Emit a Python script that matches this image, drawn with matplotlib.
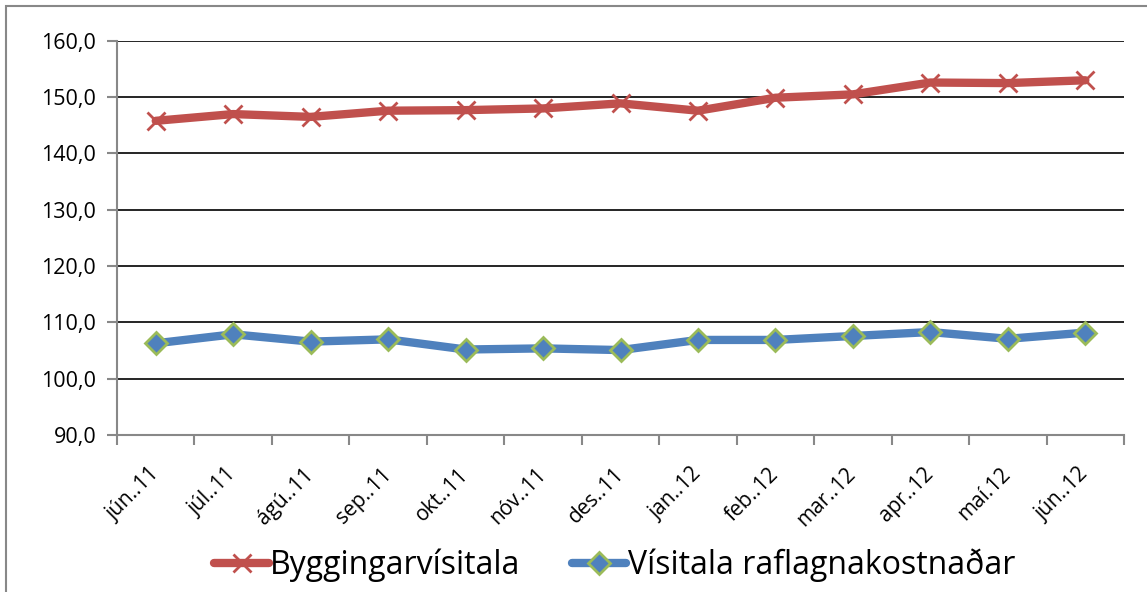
import matplotlib.pyplot as plt
from matplotlib.patches import Rectangle
from matplotlib.ticker import FixedLocator, FuncFormatter

plt.rcParams['font.family'] = ['Open Sans', 'DejaVu Sans']

months = ['jún..11', 'júl..11', 'ágú..11', 'sep..11', 'okt..11', 'nóv..11', 'des..11',
          'jan..12', 'feb..12', 'mar..12', 'apr..12', 'maí.12', 'jún..12']
bygging = [145.8, 147.0, 146.5, 147.6, 147.7, 148.0, 148.9,
           147.6, 149.9, 150.5, 152.6, 152.5, 153.0]
rafl = [106.3, 107.9, 106.6, 107.0, 105.2, 105.4, 105.1,
        106.9, 106.9, 107.6, 108.3, 107.1, 108.2]

fig = plt.figure(figsize=(11.47, 5.92), dpi=100)
ax = fig.add_axes([0.102, 0.265, 0.878, 0.666])

x = range(len(months))
ax.plot(x, bygging, color='#c0504d', lw=6, marker='x', ms=13, mew=2,
        mec='#c0504d', label='Byggingarvísitala', solid_capstyle='round')
ax.plot(x, rafl, color='#4f81bd', lw=6, marker='D', ms=11, mew=2,
        mfc='#4f81bd', mec='#9bbb59', label='Vísitala raflagnakostnaðar',
        solid_capstyle='round')

ax.set_ylim(90, 160)
ax.set_xlim(-0.5, len(months) - 0.5)
ax.set_yticks(range(90, 161, 10))
ax.yaxis.set_major_formatter(FuncFormatter(lambda v, p: f'{v:.1f}'.replace('.', ',')))
ax.grid(axis='y', color='black', lw=1.2)
ax.set_axisbelow(True)

ax.set_xticks(list(x))
ax.set_xticklabels(months, rotation=45, ha='right', va='center',
                   rotation_mode='anchor', fontsize=15)
ax.xaxis.set_minor_locator(FixedLocator([i - 0.5 for i in range(len(months) + 1)]))
ax.tick_params(axis='x', which='major', length=0, pad=26)
ax.tick_params(axis='x', which='minor', length=7, color='#888888', width=1.5)
ax.tick_params(axis='y', length=7, color='#888888', width=1.5, labelsize=15.5, pad=8)

for s in ['top', 'right']:
    ax.spines[s].set_visible(False)
for s in ['left', 'bottom']:
    ax.spines[s].set_color('#888888')
    ax.spines[s].set_linewidth(1.5)

fig.legend(*ax.get_legend_handles_labels(), loc='center',
           bbox_to_anchor=(0.536, 0.045), ncol=2, frameon=False, fontsize=23,
           handlelength=1.7, columnspacing=1.6, handletextpad=0.05)

fig.patches.append(Rectangle((6 / 1147, -0.1), 1.2, 1 - 6 / 592 + 0.1,
                             transform=fig.transFigure, fill=False,
                             ec='#888888', lw=1.5))

fig.savefig('out.png', dpi=100)
